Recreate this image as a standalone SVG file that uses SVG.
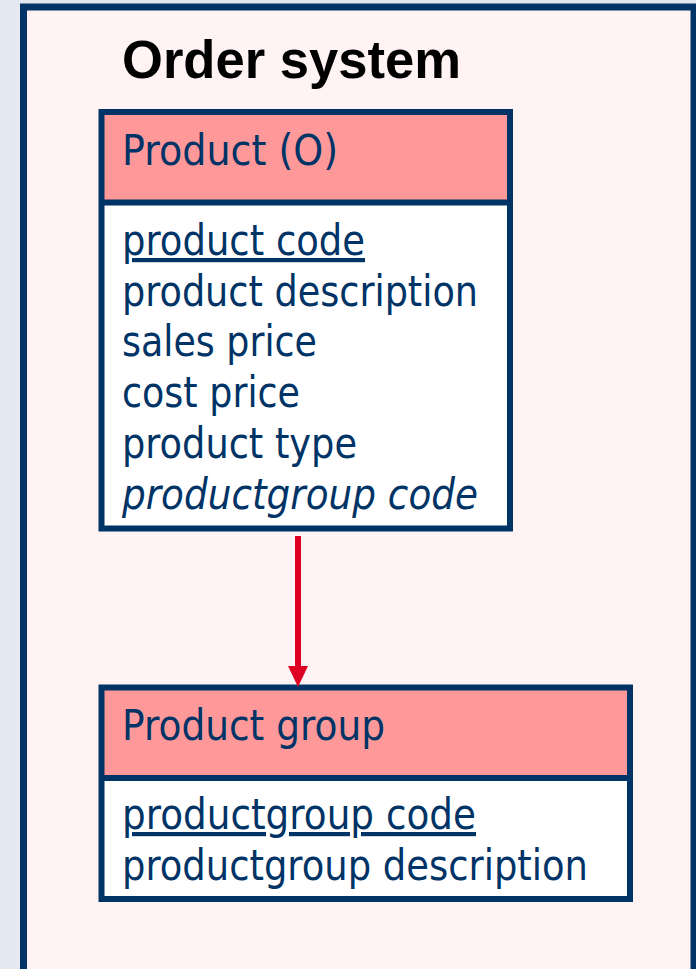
<svg xmlns="http://www.w3.org/2000/svg" width="696" height="969" viewBox="0 0 696 969">
  <style>
    .frame { fill: #FFF4F3; stroke: #003366; stroke-width: 7; }
    .box { stroke: #003366; stroke-width: 6; fill: none; }
    .hdr { fill: #FF9999; }
    .body { fill: #FFFFFF; }
    .divider { stroke: #003366; stroke-width: 6; }
    .t { font-family: "DejaVu Sans", Verdana, sans-serif; font-size: 42px; fill: #003366; }
    .title { font-family: "Liberation Sans", Arial, sans-serif; font-weight: bold; font-size: 53px; fill: #000000; }
    .u { text-decoration: underline; }
    .i { font-style: italic; }
    .conn { stroke: #DD0022; stroke-width: 6; }
    .head { fill: #DD0022; }
  </style>

  <rect x="0" y="0" width="696" height="969" fill="#E4E8F1"/>
  <rect class="frame" x="23.5" y="7" width="670.5" height="980"/>

  <g id="title">
    <text class="title" x="122" y="78" textLength="339" lengthAdjust="spacingAndGlyphs">Order system</text>
  </g>

  <g id="product">
    <rect class="hdr" x="101.5" y="112" width="408.5" height="90.5"/>
    <rect class="body" x="101.5" y="202.5" width="408.5" height="326"/>
    <rect class="box" x="101.5" y="112" width="408.5" height="416.5"/>
    <line class="divider" x1="101.5" y1="202.5" x2="510" y2="202.5"/>
    <text class="t" x="122" y="165" textLength="216" lengthAdjust="spacingAndGlyphs">Product (O)</text>
    <text class="t u" x="122" y="255" textLength="243" lengthAdjust="spacingAndGlyphs">product code</text>
    <text class="t" x="122" y="305.5" textLength="356" lengthAdjust="spacingAndGlyphs">product description</text>
    <text class="t" x="122" y="356" textLength="195" lengthAdjust="spacingAndGlyphs">sales price</text>
    <text class="t" x="122" y="407" textLength="178" lengthAdjust="spacingAndGlyphs">cost price</text>
    <text class="t" x="122" y="458" textLength="235" lengthAdjust="spacingAndGlyphs">product type</text>
    <text class="t i" x="122" y="508.5" textLength="356" lengthAdjust="spacingAndGlyphs">productgroup code</text>
  </g>

  <g id="productgroup">
    <rect class="hdr" x="101.5" y="687.5" width="528.5" height="90.5"/>
    <rect class="body" x="101.5" y="778" width="528.5" height="121"/>
    <rect class="box" x="101.5" y="687.5" width="528.5" height="211.5"/>
    <line class="divider" x1="101.5" y1="778" x2="630" y2="778"/>
    <text class="t" x="122" y="740" textLength="263" lengthAdjust="spacingAndGlyphs">Product group</text>
    <text class="t u" x="122" y="829" textLength="354" lengthAdjust="spacingAndGlyphs">productgroup code</text>
    <text class="t" x="122" y="880" textLength="466" lengthAdjust="spacingAndGlyphs">productgroup description</text>
  </g>

  <g id="connectors">
    <line class="conn" x1="298" y1="536" x2="298" y2="668"/>
    <polygon class="head" points="288,666 308,666 298,687"/>
  </g>
</svg>
